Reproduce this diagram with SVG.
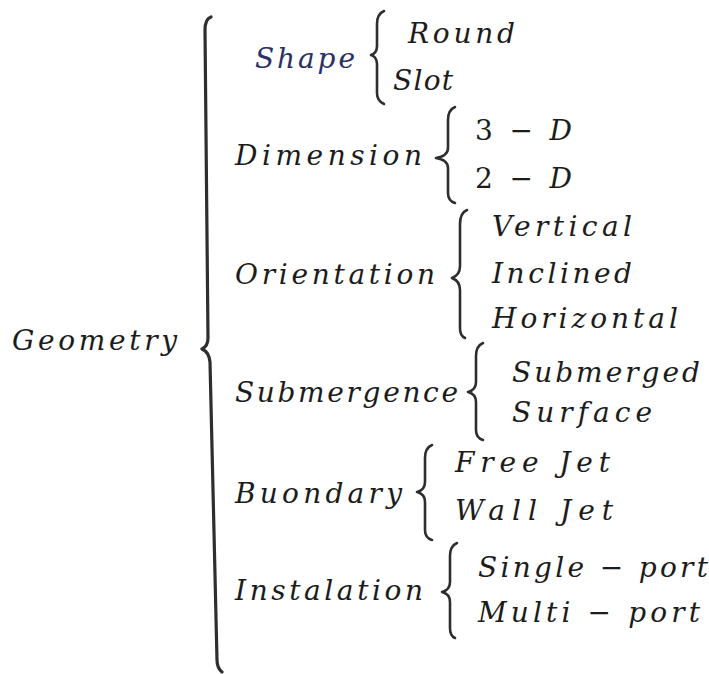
<svg xmlns="http://www.w3.org/2000/svg" width="709" height="674" viewBox="0 0 709 674">
<style>
text{font-style:italic;font-size:28px;fill:#1c1c1c}
.up{font-style:normal}
.br{fill:none;stroke:#2e2e2e;stroke-width:2.6;stroke-linecap:round;stroke-linejoin:round}
</style>
<rect width="709" height="674" fill="#ffffff"/>
<g id="connectors">
<path class="br" style="stroke-width:3.2" d="M211,17 Q205,19 205,30 L208,338 Q208,346 202,349 Q209,352 210,362 L217,660 Q217,668 222,672"/>
<path class="br" d="M384,11 Q377,14 377,24 L377,46 Q377,53 371,55 Q377,57 377,64 L377,93 Q377,101 384,104"/>
<path class="br" d="M455,107 Q448,110 448,120 L448,148 Q448,156 436,158 Q448,160 448,168 L448,193 Q448,201 455,203"/>
<path class="br" d="M467,210 Q460,213 460,224 L460,266 Q460,275 452,278 Q460,281 460,290 L460,328 Q460,336 465,338"/>
<path class="br" d="M483,343 Q476,346 476,356 L476,382 Q476,390 468,392 Q476,394 476,402 L476,430 Q476,438 483,440"/>
<path class="br" d="M432,445 Q425,448 425,458 L425,482 Q425,490 417,492 Q425,494 425,502 L425,530 Q425,538 432,540"/>
<path class="br" d="M457,543 Q450,546 450,556 L450,582 Q450,590 442,592 Q450,594 450,602 L450,628 Q450,636 455,638"/>
</g>
<g font-family="'DejaVu Serif', 'Liberation Serif', serif">
<g id="geometry"><text x="12" y="350" textLength="165" lengthAdjust="spacing">Geometry</text></g>
<g id="shape"><text x="255" y="68" textLength="100" lengthAdjust="spacing" style="fill:#2a3066">Shape</text></g>
<g id="round"><text x="408" y="43" textLength="107" lengthAdjust="spacing">Round</text></g>
<g id="slot"><text x="393" y="90" textLength="60" lengthAdjust="spacing">Slot</text></g>
<g id="dimension"><text x="235" y="165" textLength="187" lengthAdjust="spacing">Dimension</text></g>
<g id="d3"><text x="475" y="140" textLength="97" lengthAdjust="spacing"><tspan class="up">3 − </tspan>D</text></g>
<g id="d2"><text x="475" y="188" textLength="97" lengthAdjust="spacing"><tspan class="up">2 − </tspan>D</text></g>
<g id="orientation"><text x="235" y="284" textLength="200" lengthAdjust="spacing">Orientation</text></g>
<g id="vertical"><text x="492" y="236" textLength="140" lengthAdjust="spacing">Vertical</text></g>
<g id="inclined"><text x="492" y="283" textLength="140" lengthAdjust="spacing">Inclined</text></g>
<g id="horizontal"><text x="492" y="328" textLength="186" lengthAdjust="spacing">Horizontal</text></g>
<g id="submergence"><text x="235" y="402" textLength="223" lengthAdjust="spacing">Submergence</text></g>
<g id="submerged"><text x="512" y="382" textLength="188" lengthAdjust="spacing">Submerged</text></g>
<g id="surface"><text x="512" y="422" textLength="140" lengthAdjust="spacing">Surface</text></g>
<g id="buondary"><text x="235" y="503" textLength="167" lengthAdjust="spacing">Buondary</text></g>
<g id="freejet"><text x="455" y="472" textLength="155" lengthAdjust="spacing">Free Jet</text></g>
<g id="walljet"><text x="455" y="520" textLength="158" lengthAdjust="spacing">Wall Jet</text></g>
<g id="instalation"><text x="235" y="600" textLength="188" lengthAdjust="spacing">Instalation</text></g>
<g id="singleport"><text x="478" y="577" textLength="230" lengthAdjust="spacing">Single <tspan class="up">−</tspan> port</text></g>
<g id="multiport"><text x="478" y="622" textLength="222" lengthAdjust="spacing">Multi <tspan class="up">−</tspan> port</text></g>
</g>
</svg>
